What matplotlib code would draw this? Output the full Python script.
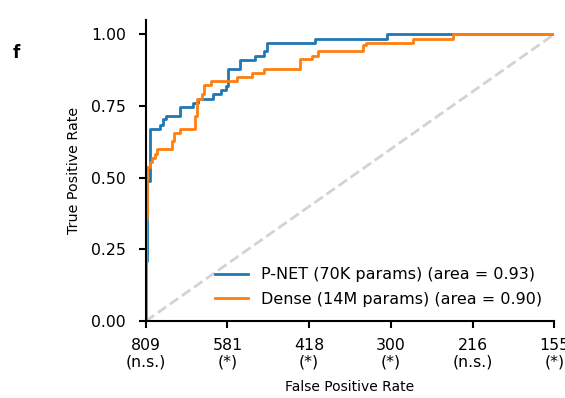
import numpy as np
import matplotlib
matplotlib.use("Agg")
import matplotlib.pyplot as plt

# ROC points (fpr, tpr), step-wise
pnet_fpr = [0, 0, 0.003, 0.003, 0.011, 0.011, 0.034, 0.034, 0.041, 0.041, 0.049, 0.049,
            0.085, 0.085, 0.116, 0.116, 0.128, 0.128, 0.165, 0.165, 0.185, 0.185,
            0.196, 0.196, 0.202, 0.202, 0.230, 0.230, 0.267, 0.267, 0.289, 0.289,
            0.297, 0.297, 0.414, 0.414, 0.590, 0.590, 1.0]
pnet_tpr = [0, 0.21, 0.21, 0.49, 0.49, 0.671, 0.671, 0.683, 0.683, 0.703, 0.703, 0.715,
            0.715, 0.747, 0.747, 0.761, 0.761, 0.776, 0.776, 0.791, 0.791, 0.805,
            0.805, 0.82, 0.82, 0.880, 0.880, 0.909, 0.909, 0.924, 0.924, 0.941,
            0.941, 0.970, 0.970, 0.985, 0.985, 1.0, 1.0]

dense_fpr = [0, 0, 0.003, 0.003, 0.010, 0.010, 0.016, 0.016, 0.022, 0.022, 0.028, 0.028,
             0.063, 0.063, 0.069, 0.069, 0.083, 0.083, 0.120, 0.120, 0.126, 0.126,
             0.137, 0.137, 0.143, 0.143, 0.159, 0.159, 0.224, 0.224, 0.259, 0.259,
             0.289, 0.289, 0.377, 0.377, 0.406, 0.406, 0.422, 0.422, 0.533, 0.533,
             0.539, 0.539, 0.655, 0.655, 0.752, 0.752, 1.0]
dense_tpr = [0, 0.36, 0.36, 0.538, 0.538, 0.555, 0.555, 0.569, 0.569, 0.584, 0.584, 0.599,
             0.599, 0.627, 0.627, 0.657, 0.657, 0.671, 0.671, 0.715, 0.715, 0.776,
             0.776, 0.791, 0.791, 0.822, 0.822, 0.837, 0.837, 0.851, 0.851, 0.866,
             0.866, 0.880, 0.880, 0.912, 0.912, 0.924, 0.924, 0.941, 0.941, 0.962,
             0.962, 0.970, 0.970, 0.985, 0.985, 1.0, 1.0]

pnet_label = "P-NET (70K params) (area = 0.93)"
dense_label = "Dense (14M params) (area = 0.90)"

xticks = [0, 0.2, 0.4, 0.6, 0.8, 1.0]
xticklabels = ["809\n(n.s.)", "581\n(*)", "418\n(*)", "300\n(*)", "216\n(n.s.)", "155\n(*)"]
yticks = [0, 0.25, 0.5, 0.75, 1.0]

fig = plt.figure(figsize=(5.65, 3.98), dpi=100)
ax = fig.add_axes([0.258, 0.193, 0.723, 0.757])

ax.plot([0, 1], [0, 1], linestyle="--", color="lightgray", lw=2)
ax.plot(pnet_fpr, pnet_tpr, color="#1f77b4", lw=2, label=pnet_label)
ax.plot(dense_fpr, dense_tpr, color="#ff7f0e", lw=2, label=dense_label)

ax.set_xlim(0, 1)
ax.set_ylim(0, 1.05)
ax.set_xticks(xticks)
ax.set_xticklabels(xticklabels, fontsize=11.3, linespacing=1.1)
ax.set_yticks(yticks)
ax.set_yticklabels(["%.2f" % v for v in yticks], fontsize=11.3)
ax.set_xlabel("False Positive Rate", fontsize=10, labelpad=8)
ax.set_ylabel("True Positive Rate", fontsize=10.3, labelpad=7)

for s in ["top", "right"]:
    ax.spines[s].set_visible(False)
for s in ["left", "bottom"]:
    ax.spines[s].set_linewidth(1.5)
ax.tick_params(width=1.5, length=5)
ax.tick_params(axis="x", pad=7)
ax.tick_params(axis="y", pad=9.5)

ax.legend(loc="lower right", frameon=False, fontsize=11.5, handlelength=2.05,
          handletextpad=0.8, labelspacing=0.6, bbox_to_anchor=(1.005, 0.0))

fig.text(0.022, 0.855, "f", fontsize=12, fontweight="bold")

fig.savefig("out.png", dpi=100)
